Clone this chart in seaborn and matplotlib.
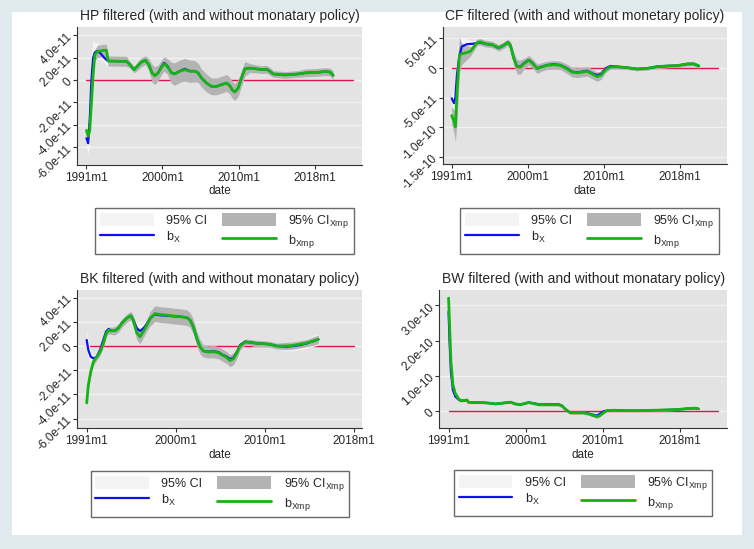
#%% imports
import matplotlib
matplotlib.use("Agg")
import matplotlib.pyplot as plt
import seaborn as sns
import numpy as np
from matplotlib.patches import Patch, Rectangle
from matplotlib.lines import Line2D

#%% data (months after 1991m1, coefficients in 1e-11 / 1e-10 units)
tick_pos = [0, 108, 216, 324]
tick_lab = ["1991m1", "2000m1", "2010m1", "2018m1"]

# HP filtered
hp_m = [0, 2.4, 4.7, 7.1, 9.5, 11.8, 15.6, 20.4, 25.1, 28.4, 30.8, 45, 56.8, 61.6, 67.7, 73.4,
        78.2, 83.8, 88.6, 93.3, 97.1, 101.8, 106.6, 110.4, 115.1, 120.8, 125.5, 132.6, 139.7,
        146.8, 154, 158.7, 163.4, 170.5, 177.6, 184.7, 191.8, 199, 203.7, 207, 210.8, 215.5,
        220.3, 225, 232.1, 241.6, 248.7, 255.8, 260.5, 265.3, 281.9, 300.8, 310.3, 329.2,
        338.7, 345.8, 350.5]
hp_bx = [-5.2, -5.65, -3.5, 0.0, 2.0, 2.45, 2.6, 2.35, 2.0, 1.8, 1.7, 1.68, 1.67, 1.37, 0.93, 1.3,
         1.6, 1.76, 1.37, 0.63, 0.39, 0.63, 1.2, 1.52, 1.25, 0.65, 0.55, 0.8, 1.0,
         0.8, 0.8, 0.63, 0.18, -0.27, -0.57, -0.57, -0.42, -0.27, -0.51, -0.87, -1.07, -0.72,
         0.18, 0.99, 1.07, 0.99, 0.93, 0.96, 0.78, 0.54, 0.45, 0.54, 0.63, 0.69,
         0.75, 0.72, 0.42]
hp_bxmp = [-4.5, -5.0, -4.5, -2.0, 0.5, 2.2, 2.55, 2.6, 2.65, 2.65, 1.7, 1.68, 1.67, 1.37, 0.93, 1.3,
           1.6, 1.76, 1.37, 0.6, 0.39, 0.63, 1.15, 1.43, 1.2, 0.63, 0.54, 0.78, 0.93,
           0.78, 0.78, 0.63, 0.18, -0.27, -0.57, -0.57, -0.42, -0.27, -0.51, -0.87, -1.07, -0.72,
           0.18, 0.99, 1.07, 0.99, 0.93, 0.96, 0.78, 0.54, 0.45, 0.54, 0.63, 0.69,
           0.75, 0.72, 0.42]
hp_ci = [0.8, 1.0, 2.0, 2.5, 1.5, 0.9, 0.7, 0.5, 0.45, 0.45, 0.4, 0.4, 0.4, 0.3, 0.3, 0.35,
         0.35, 0.35, 0.5, 0.7, 0.7, 0.6, 0.55, 0.55, 0.6, 0.8, 0.85, 0.85, 0.85,
         0.85, 0.85, 0.75, 0.7, 0.7, 0.65, 0.65, 0.65, 0.65, 0.65, 0.65, 0.65, 0.65,
         0.6, 0.55, 0.35, 0.3, 0.3, 0.3, 0.3, 0.25, 0.25, 0.25, 0.3, 0.3,
         0.3, 0.3, 0.35]
hp_cimp = [0.3, 0.3, 0.4, 0.5, 0.5, 0.5, 0.55, 0.55, 0.55, 0.55, 0.45, 0.45, 0.45, 0.3, 0.3, 0.4,
           0.4, 0.4, 0.55, 0.8, 0.8, 0.7, 0.65, 0.65, 0.7, 0.95, 1.0, 1.0, 1.0,
           1.0, 0.95, 0.85, 0.8, 0.8, 0.75, 0.75, 0.75, 0.75, 0.75, 0.75, 0.75, 0.75,
           0.7, 0.65, 0.4, 0.35, 0.35, 0.35, 0.35, 0.3, 0.3, 0.3, 0.35, 0.35,
           0.35, 0.35, 0.4]

# CF filtered
cf_m = [0, 3.3, 5.2, 7.6, 10.9, 14.2, 21.3, 26.5, 31.3, 36, 40.7, 47.8, 57.3, 66.8, 73.9, 79.6,
        83.4, 88.1, 92.8, 97.6, 102.3, 109.4, 114.2, 121.3, 128.4, 135.5, 145, 154.4, 163.9,
        171, 178.1, 185.2, 192.3, 199.4, 206.5, 212.2, 218.4, 225.5, 235, 249.2, 263.4, 277.6,
        291.8, 306, 320.2, 334.4, 343.9, 351]
cf_bx = [-5.1, -5.9, -5.0, -1.0, 2.0, 3.6, 4.0, 4.05, 4.1, 4.2, 4.3, 4.05, 3.9, 3.35, 3.8, 4.3,
         3.8, 1.64, 0.23, 0.23, 0.8, 1.36, 0.9, -0.06, 0.23, 0.5, 0.62, 0.5, -0.06,
         -0.62, -0.73, -0.62, -0.45, -0.9, -1.2, -1.0, -0.06, 0.34, 0.23, 0.06, -0.17, -0.06,
         0.23, 0.34, 0.4, 0.68, 0.68, 0.34]
cf_bxmp = [-8.0, -9.0, -9.9, -4.0, 2.2, 2.4, 2.6, 2.8, 3.5, 4.3, 4.4, 4.1, 3.95, 3.4, 3.85, 4.3,
           3.8, 1.6, 0.2, 0.15, 0.7, 1.3, 0.85, -0.1, 0.2, 0.45, 0.55, 0.45, -0.15,
           -0.7, -0.8, -0.7, -0.55, -1.0, -1.45, -1.2, -0.3, 0.2, 0.2, 0.06, -0.17, -0.06,
           0.23, 0.34, 0.4, 0.68, 0.7, 0.34]
cf_ci = [1.2, 1.6, 2.0, 4.5, 2.5, 1.5, 0.9, 0.6, 0.5, 0.45, 0.45, 0.45, 0.45, 0.45, 0.45, 0.45,
         0.6, 0.9, 1.0, 1.0, 0.8, 0.7, 0.7, 0.7, 0.6, 0.6, 0.6, 0.6, 0.7,
         0.7, 0.7, 0.7, 0.7, 0.7, 0.7, 0.6, 0.4, 0.3, 0.3, 0.25, 0.25, 0.25,
         0.25, 0.25, 0.25, 0.3, 0.3, 0.3]
cf_cimp = [1.5, 2.0, 2.5, 5.0, 3.0, 1.8, 1.2, 0.8, 0.6, 0.55, 0.55, 0.55, 0.55, 0.55, 0.55, 0.55,
           0.7, 1.1, 1.2, 1.2, 0.9, 0.8, 0.8, 0.8, 0.7, 0.7, 0.7, 0.7, 0.8,
           0.8, 0.8, 0.8, 0.8, 0.8, 0.8, 0.7, 0.5, 0.35, 0.3, 0.3, 0.3, 0.3,
           0.3, 0.3, 0.3, 0.35, 0.35, 0.35]

# BK filtered
bk_m = [0, 2, 4.9, 8.1, 12.1, 16.2, 20.2, 23.5, 26.3, 30.3, 34.4, 38.4, 42.5, 48.5, 53.4, 56.6,
        60.7, 64.7, 68.8, 72.8, 76.9, 82.9, 89, 97.1, 105.2, 113.3, 121.4, 125.4, 129.4, 133.5,
        137.5, 141.6, 147.6, 153.7, 159.8, 163.8, 169.9, 173.9, 178, 182, 186.1, 192.1, 198.2,
        206.3, 214.4, 222.5, 230.6, 242.7, 250.8, 258.9, 267, 275, 281.1]
bk_bx = [0.5, -0.33, -0.88, -1.02, -0.9, -0.33, 0.5, 1.19, 1.4, 1.25, 1.27, 1.47, 1.88, 2.29, 2.51, 2.15,
         1.46, 1.24, 1.46, 1.8, 2.29, 2.62, 2.54, 2.51, 2.46, 2.43, 2.35, 2.15, 1.6, 0.64,
         -0.06, -0.41, -0.47, -0.44, -0.5, -0.69, -0.88, -1.08, -0.97, -0.53, 0.08, 0.36, 0.3,
         0.22, 0.19, 0.14, 0.0, -0.05, 0.0, 0.08, 0.22, 0.41, 0.55]
bk_bxmp = [-4.7, -3.23, -2.13, -1.3, -0.9, -0.5, 0.2, 1.0, 1.3, 1.25, 1.27, 1.47, 1.88, 2.29, 2.51, 2.1,
           1.1, 0.77, 1.2, 1.7, 2.25, 2.68, 2.6, 2.55, 2.48, 2.43, 2.35, 2.15, 1.6, 0.64,
           -0.06, -0.41, -0.5, -0.47, -0.55, -0.72, -0.95, -1.2, -1.05, -0.6, 0.0, 0.33, 0.3,
           0.22, 0.19, 0.14, 0.0, 0.0, 0.05, 0.15, 0.25, 0.41, 0.55]
bk_ci = [0.9, 0.7, 0.5, 0.3, 0.25, 0.25, 0.25, 0.25, 0.25, 0.25, 0.3, 0.3, 0.3, 0.3, 0.3, 0.4,
         0.5, 0.5, 0.4, 0.4, 0.5, 0.55, 0.55, 0.55, 0.55, 0.55, 0.55, 0.5, 0.5, 0.5,
         0.5, 0.45, 0.45, 0.45, 0.45, 0.45, 0.45, 0.45, 0.45, 0.4, 0.3, 0.25, 0.25,
         0.25, 0.25, 0.25, 0.25, 0.35, 0.35, 0.4, 0.4, 0.45, 0.45]
bk_cimp = [0.3, 0.3, 0.3, 0.3, 0.3, 0.3, 0.3, 0.3, 0.3, 0.3, 0.35, 0.35, 0.35, 0.35, 0.35, 0.45,
           0.6, 0.6, 0.5, 0.5, 0.6, 0.65, 0.65, 0.65, 0.65, 0.65, 0.65, 0.6, 0.6, 0.6,
           0.6, 0.5, 0.5, 0.5, 0.5, 0.5, 0.5, 0.5, 0.5, 0.45, 0.3, 0.25, 0.25,
           0.25, 0.25, 0.25, 0.25, 0.3, 0.3, 0.3, 0.3, 0.35, 0.35]

# BW filtered
bw_m = [0, 1.4, 3.3, 6.1, 9.4, 14, 16.4, 21, 25.7, 28, 35, 49, 58.4, 65.4, 74.7, 86.4, 93.4,
        100.4, 112.1, 119, 126, 133, 147, 154, 159, 163.5, 170.5, 180, 189, 196, 203, 208,
        212, 217, 222, 231, 250, 268, 287, 306, 320, 334, 346, 350]
bw_bx = [2.82, 1.97, 1.12, 0.6, 0.42, 0.33, 0.31, 0.3, 0.32, 0.26, 0.25, 0.245, 0.23, 0.21, 0.23, 0.26, 0.21,
         0.19, 0.25, 0.23, 0.2, 0.2, 0.2, 0.2, 0.16, 0.06, -0.04, -0.04, -0.04, -0.06, -0.1, -0.12,
         -0.07, 0.0, 0.02, 0.03, 0.02, 0.02, 0.03, 0.04, 0.05, 0.075, 0.09, 0.07]
bw_bxmp = [3.2, 2.44, 1.4, 0.75, 0.5, 0.35, 0.31, 0.3, 0.32, 0.25, 0.25, 0.245, 0.23, 0.21, 0.23, 0.26, 0.21,
           0.19, 0.25, 0.22, 0.19, 0.19, 0.19, 0.19, 0.15, 0.06, -0.04, -0.04, -0.04, -0.07, -0.12, -0.15,
           -0.12, -0.04, 0.02, 0.03, 0.02, 0.02, 0.03, 0.04, 0.05, 0.075, 0.09, 0.07]
bw_ci = [0.1, 0.1, 0.1, 0.08, 0.06, 0.05, 0.04, 0.03, 0.03, 0.03, 0.03, 0.03, 0.03, 0.03, 0.03, 0.03, 0.03,
         0.03, 0.03, 0.03, 0.035, 0.035, 0.04, 0.04, 0.04, 0.04, 0.04, 0.04, 0.04, 0.04, 0.04, 0.04,
         0.035, 0.03, 0.025, 0.025, 0.025, 0.025, 0.025, 0.025, 0.025, 0.025, 0.025, 0.025]
bw_cimp = [0.12, 0.12, 0.12, 0.1, 0.08, 0.06, 0.05, 0.03, 0.03, 0.03, 0.03, 0.03, 0.03, 0.03, 0.03, 0.03, 0.03,
           0.03, 0.03, 0.03, 0.04, 0.04, 0.045, 0.045, 0.045, 0.045, 0.045, 0.045, 0.045, 0.045, 0.045, 0.045,
           0.04, 0.03, 0.025, 0.025, 0.025, 0.025, 0.025, 0.025, 0.025, 0.025, 0.025, 0.025]

titles = ["HP filtered (with and without monatary policy)",
          "CF filtered (with and without monetary policy)",
          "BK filtered (with and without monatary policy)",
          "BW filtered (with and without monatary policy)"]

#%% style
sns.set_style("ticks")
plt.rcParams['font.family'] = ['Liberation Sans', 'DejaVu Sans']
plt.rcParams['mathtext.fontset'] = 'custom'
plt.rcParams['mathtext.rm'] = 'Liberation Sans'
plt.rcParams['mathtext.it'] = 'Liberation Sans'

C_BG = "#e3e3e3"
C_GRID = "#f2f2f2"
C_CI = "#f4f4f4"
C_CIMP = "#b3b3b3"
C_BX = "#1010f0"
C_BXMP = "#14b414"
C_ZERO = "#e8114f"

W, H = 754, 549
fig = plt.figure(figsize=(W / 100, H / 100), dpi=100)
fig.patch.set_facecolor("#dfe9ee")
fig.patches.append(Rectangle((12 / W, 1 - 535 / H), (742 - 12) / W, (535 - 12) / H,
                             transform=fig.transFigure, facecolor="white", edgecolor="none", zorder=-5))


def px_axes(l, r, t, b):
    return fig.add_axes([l / W, 1 - b / H, (r - l) / W, (b - t) / H])


def draw_panel(ax, m, bx, bxmp, ci, cimp, zero_end, xlim, ylim, yt, ylab, title, leg_xy):
    m = np.array(m)
    bx = np.array(bx)
    bxmp = np.array(bxmp)
    ax.set_facecolor(C_BG)
    for y in yt:
        ax.axhline(y, color=C_GRID, lw=1.0, zorder=0)
    ax.plot([0, zero_end], [0, 0], color=C_ZERO, lw=1.0, zorder=1)
    ax.fill_between(m, bx - np.array(ci), bx + np.array(ci), color=C_CI, lw=0, zorder=2)
    ax.fill_between(m, bxmp - np.array(cimp), bxmp + np.array(cimp), color=C_CIMP, lw=0, zorder=3)
    sns.lineplot(x=m, y=bx, ax=ax, color=C_BX, lw=1.6, estimator=None, sort=False, zorder=4)
    sns.lineplot(x=m, y=bxmp, ax=ax, color=C_BXMP, lw=2.0, estimator=None, sort=False, zorder=5)
    ax.set_xlim(*xlim)
    ax.set_ylim(*ylim)
    ax.set_xticks(tick_pos)
    ax.set_xticklabels(tick_lab, fontsize=8.5)
    ax.set_yticks(yt)
    ax.set_yticklabels(ylab, fontsize=8.5, rotation=45, ha="right", va="center", rotation_mode="anchor")
    ax.set_xlabel("date", fontsize=8.5, labelpad=1)
    ax.set_ylabel("")
    ax.set_title(title, fontsize=10, pad=5)
    ax.tick_params(axis="both", length=3, width=0.8, color="#333333", pad=2)
    for s in ["top", "right"]:
        ax.spines[s].set_visible(False)
    for s in ["left", "bottom"]:
        ax.spines[s].set_color("#333333")
        ax.spines[s].set_linewidth(0.8)
    handles = [Patch(facecolor=C_CI, edgecolor="none"), Line2D([], [], color=C_BX, lw=1.6),
               Patch(facecolor=C_CIMP, edgecolor="none"), Line2D([], [], color=C_BXMP, lw=2.0)]
    labels = ["95% CI", r"b$_{\mathrm{X}}$", r"95% CI$_{\mathrm{Xmp}}$", r"b$_{\mathrm{Xmp}}$"]
    leg = fig.legend(handles, labels, ncol=2, loc="center",
                     bbox_to_anchor=(leg_xy[0] / W, 1 - leg_xy[1] / H),
                     fontsize=9, frameon=True, fancybox=False, handlelength=4.3,
                     handleheight=1.2, columnspacing=1.2, handletextpad=1.0,
                     borderpad=0.35, labelspacing=0.25)
    leg.get_frame().set_edgecolor("#444444")
    leg.get_frame().set_linewidth(1.0)


yt11 = [4, 2, 0, -2, -4, -6]
yl11 = ["4.0e-11", "2.0e-11", "0", "-2.0e-11", "-4.0e-11", "-6.0e-11"]

ax1 = px_axes(77.3, 361.7, 26.7, 165)
draw_panel(ax1, hp_m, hp_bx, hp_bxmp, hp_ci, hp_cimp, 379, (-13, 391), (-7.59, 4.76),
           yt11, yl11, titles[0], (224.5, 231.2))

ax2 = px_axes(442.7, 727, 26.7, 164.3)
draw_panel(ax2, cf_m, cf_bx, cf_bxmp, cf_ci, cf_cimp, 378, (-12.8, 391), (-16.2, 6.95),
           [5, 0, -5, -10, -15], ["5.0e-11", "0", "-5.0e-11", "-1.0e-10", "-1.5e-10"],
           titles[1], (589.5, 231.2))

ax3 = px_axes(77.3, 361.7, 290, 428.3)
draw_panel(ax3, bk_m, bk_bx, bk_bxmp, bk_ci, bk_cimp, 324, (-11.4, 333.7), (-6.8, 4.63),
           yt11, yl11, titles[2], (219.8, 494.2))

ax4 = px_axes(439.3, 727, 290, 428.3)
draw_panel(ax4, bw_m, bw_bx, bw_bxmp, bw_ci, bw_cimp, 377, (-13, 390), (-0.48, 3.43),
           [3, 2, 1, 0], ["3.0e-10", "2.0e-10", "1.0e-10", "0"], titles[3], (583.3, 493.2))

fig.savefig("out.png", dpi=100, facecolor=fig.get_facecolor())
